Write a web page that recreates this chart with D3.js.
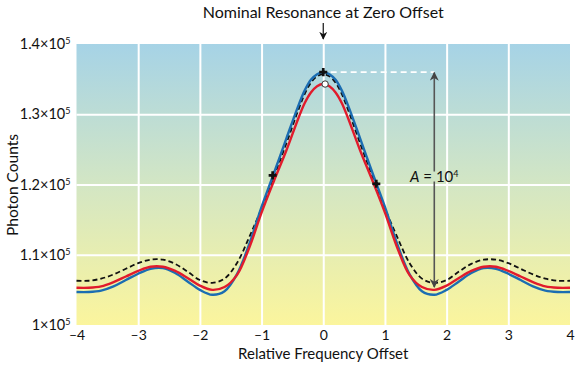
<!DOCTYPE html>
<html><head><meta charset="utf-8">
<script src="https://cdn.jsdelivr.net/npm/d3@7"></script>
<style>
html,body{margin:0;padding:0;background:#fff;}
text{font-family:Lato,"Open Sans",sans-serif;fill:#111;}
</style></head>
<body>
<svg id="chart" width="584" height="365"></svg>
<script>
// ---- data ----
const xValues = [-4,-3.8,-3.6,-3.4,-3.2,-3,-2.8,-2.6,-2.4,-2.2,-2,-1.8,-1.6,-1.4,-1.2,-1,-0.8,-0.6,-0.4,-0.3,-0.2,-0.1,0,
  0.1,0.2,0.3,0.4,0.6,0.8,1,1.2,1.4,1.6,1.8,2,2.2,2.4,2.6,2.8,3,3.2,3.4,3.6,3.8,4];
const blueCounts = [104700,104700,104900,105500,106400,107300,108000,108100,107400,106200,105000,104300,104800,107200,111500,116800,121600,126500,131300,133400,134900,135700,136000,
  135700,134900,133400,131300,126500,121600,116800,111500,107200,104800,104300,105000,106200,107400,108100,108000,107300,106400,105500,104900,104700,104700];
const redCounts = [105300,105300,105500,106100,106900,107700,108300,108300,107700,106700,105600,105000,105400,107100,111000,116000,120500,124800,129500,131600,133100,134000,134300,
  134000,133100,131600,129500,124800,120500,116000,111000,107100,105400,105000,105600,106700,107700,108300,108300,107700,106900,106100,105500,105300,105300];
const dashedCounts = [106300,106300,106600,107200,108000,108800,109300,109300,108700,107600,106400,106000,106600,108800,112500,116600,121100,125800,130700,132900,134500,135400,135700,
  135400,134500,132900,130700,125800,121100,116600,112500,108800,106600,106000,106400,107600,108700,109300,109300,108800,108000,107200,106600,106300,106300];
const starMarkers = [{x:-0.82,y:121300},{x:0,y:136000},{x:0.86,y:120100}];
const circleMarker = {x:0.03,y:134300};
const xTicks = [-4,-3,-2,-1,0,1,2,3,4];
const xTickLabels = ["\u20134","\u20133","\u20132","\u20131","0","1","2","3","4"];
const yTicks = [100000,110000,120000,130000,140000];
const yTickMantissa = ["1","1.1","1.2","1.3","1.4"];
const amplitudeFrom = 105400, amplitudeTo = 136000, amplitudeX = 1.8;
const titleText = "Nominal Resonance at Zero Offset";
const xTitle = "Relative Frequency Offset";
const yTitle = "Photon Counts";

// ---- layout ----
const svg = d3.select("#chart");
const L = 76.5, R = 570, T = 44, B = 325;
const x = d3.scaleLinear().domain([-4,4]).range([L,R]);
const y = d3.scaleLinear().domain([100000,140000]).range([B,T]);

const defs = svg.append("defs");
const grad = defs.append("linearGradient").attr("id","bg").attr("x1",0).attr("y1",0).attr("x2",0).attr("y2",1);
grad.append("stop").attr("offset","0%").attr("stop-color","#a6d3e6");
grad.append("stop").attr("offset","50%").attr("stop-color","#d3e6c4");
grad.append("stop").attr("offset","100%").attr("stop-color","#fbf59d");
svg.append("rect").attr("x",L).attr("y",T).attr("width",R-L).attr("height",B-T).attr("fill","url(#bg)");

// grid
const gx = svg.append("g").attr("transform",`translate(0,${B})`)
  .call(d3.axisBottom(x).tickValues(xTicks.slice(1,-1)).tickSize(-(B-T)).tickFormat(""));
gx.select(".domain").remove();
gx.selectAll("line").attr("stroke","#fff").attr("stroke-width",2);
const gy = svg.append("g").attr("transform",`translate(${L},0)`)
  .call(d3.axisLeft(y).tickValues(yTicks.slice(1,-1)).tickSize(-(R-L)).tickFormat(""));
gy.select(".domain").remove();
gy.selectAll("line").attr("stroke","#fff").attr("stroke-width",2);

// axes labels
const ax = svg.append("g").attr("transform",`translate(0,${B})`)
  .call(d3.axisBottom(x).tickValues(xTicks).tickSize(0).tickPadding(5).tickFormat((d,i)=>xTickLabels[i]));
ax.select(".domain").remove();
ax.selectAll("text").attr("font-size",14).attr("fill","#111").style("font-family","Lato");

const ay = svg.append("g").attr("transform",`translate(${L},0)`)
  .call(d3.axisLeft(y).tickValues(yTicks).tickSize(0).tickPadding(6).tickFormat(""));
ay.select(".domain").remove();
ay.selectAll(".tick text").each(function(d,i){
  const t = d3.select(this).attr("font-size",14.5).attr("fill","#111").style("font-family","Lato");
  t.append("tspan").text(yTickMantissa[i] + "\u00d710");
  t.append("tspan").attr("dy",-5).attr("font-size",9).text("5");
});

// lines
const line = d3.line().x((d,i)=>x(xValues[i])).y(d=>y(d)).curve(d3.curveCatmullRom.alpha(0.5));
svg.append("path").attr("d",line(dashedCounts)).attr("fill","none").attr("stroke","#111")
  .attr("stroke-width",1.8).attr("stroke-dasharray","5,3");
svg.append("path").attr("d",line(blueCounts)).attr("fill","none").attr("stroke","#1b6db2").attr("stroke-width",2.4);
svg.append("path").attr("d",line(redCounts)).attr("fill","none").attr("stroke","#e11b2c").attr("stroke-width",2.4);

// white dashed reference line at peak
svg.append("line").attr("x1",x(0.12)).attr("x2",x(amplitudeX)).attr("y1",y(amplitudeTo)).attr("y2",y(amplitudeTo))
  .attr("stroke","#fff").attr("stroke-width",1.8).attr("stroke-dasharray","6,4");

// amplitude arrow
defs.append("marker").attr("id","ah").attr("viewBox","0 0 10 10").attr("refX",9).attr("refY",5)
  .attr("markerWidth",9).attr("markerHeight",9).attr("markerUnits","userSpaceOnUse").attr("orient","auto")
  .append("path").attr("d","M0,0 L10,5 L0,10 L3,5 Z").attr("fill","#444");
defs.append("marker").attr("id","ahk").attr("viewBox","0 0 10 10").attr("refX",9).attr("refY",5)
  .attr("markerWidth",8).attr("markerHeight",8).attr("markerUnits","userSpaceOnUse").attr("orient","auto")
  .append("path").attr("d","M0,0 L10,5 L0,10 L3,5 Z").attr("fill","#111");
const midY = y(120000);
svg.append("line").attr("x1",x(amplitudeX)).attr("x2",x(amplitudeX)).attr("y1",midY-13).attr("y2",y(amplitudeTo)+0.5)
  .attr("stroke","#555").attr("stroke-width",1.6).attr("marker-end","url(#ah)");
svg.append("line").attr("x1",x(amplitudeX)).attr("x2",x(amplitudeX)).attr("y1",midY-3).attr("y2",y(amplitudeFrom))
  .attr("stroke","#555").attr("stroke-width",1.6).attr("marker-end","url(#ah)");
const at = svg.append("text").attr("x",x(amplitudeX)).attr("y",midY-3).attr("text-anchor","middle").attr("font-size",15);
at.append("tspan").attr("font-style","italic").text("A");
at.append("tspan").text(" = 10");
at.append("tspan").attr("dy",-5).attr("font-size",9).text("4");

// markers
svg.append("g").selectAll("path").data(starMarkers).join("path")
  .attr("transform",d=>`translate(${x(d.x)},${y(d.y)})`)
  .attr("d",d3.symbol(d3.symbolCross,36)()).attr("fill","#111");
svg.append("g").selectAll("path").data(starMarkers).join("path")
  .attr("transform",d=>`translate(${x(d.x)},${y(d.y)}) rotate(45)`)
  .attr("d",d3.symbol(d3.symbolSquare,14)()).attr("fill","#111");
svg.append("circle").attr("cx",x(circleMarker.x)).attr("cy",y(circleMarker.y)).attr("r",3.2)
  .attr("fill","#fff").attr("stroke","#333").attr("stroke-width",1);

// title and arrow
svg.append("text").attr("x",x(0)).attr("y",18).attr("text-anchor","middle").attr("font-size",16).text(titleText);
svg.append("line").attr("x1",x(0)).attr("x2",x(0)).attr("y1",23).attr("y2",39)
  .attr("stroke","#111").attr("stroke-width",1.2).attr("marker-end","url(#ahk)");

// axis titles
svg.append("text").attr("x",x(0)).attr("y",359).attr("text-anchor","middle").attr("font-size",15).text(xTitle);
svg.append("text").attr("transform",`translate(18,185) rotate(-90)`).attr("text-anchor","middle").attr("font-size",15.5).text(yTitle);
</script>
</body></html>
